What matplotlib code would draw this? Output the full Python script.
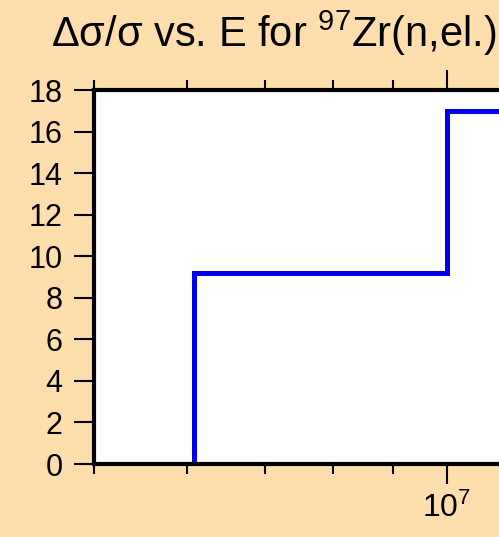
import numpy as np
import matplotlib
matplotlib.use('Agg')
import matplotlib.pyplot as plt
from matplotlib.ticker import FixedLocator, FixedFormatter, NullFormatter

plt.rcParams['font.family'] = ['Liberation Sans', 'DejaVu Sans']
plt.rcParams['mathtext.fontset'] = 'custom'
plt.rcParams['mathtext.rm'] = 'Liberation Sans'
plt.rcParams['mathtext.it'] = 'Liberation Sans'

# step edges (eV) and relative uncertainty values (%)
edges = [6.08e6, 1.0e7, 2.0e7]
rel_unc = [9.17, 17.0]

major_ticks = [1e7]
major_labels = [r'$\mathregular{10^{7}}$']
minor_ticks = [5e6, 6e6, 7e6, 8e6, 9e6]
y_ticks = list(range(0, 19, 2))

bg = '#FFDEAD'

fig = plt.figure(figsize=(4.99, 5.37), dpi=100, facecolor=bg)
# axes run off the right edge of the picture, like the reference crop
ax = fig.add_axes([94 / 499, 73 / 537, 706 / 499, 374 / 537])
ax.set_facecolor('white')

ax.stairs(rel_unc, edges, baseline=0, color='#0000F0', lw=3.6)

ax.set_xscale('log')
ax.set_xlim(5e6, 2e7)
ax.set_ylim(0, 18)

ax.xaxis.set_major_locator(FixedLocator(major_ticks))
ax.xaxis.set_major_formatter(FixedFormatter(major_labels))
ax.xaxis.set_minor_locator(FixedLocator(minor_ticks))
ax.xaxis.set_minor_formatter(NullFormatter())
ax.set_yticks(y_ticks)

for s in ax.spines.values():
    s.set_linewidth(3)

ax.tick_params(axis='y', which='major', direction='out', length=14.5, width=1.5,
               labelsize=22, pad=8, right=False)
ax.tick_params(axis='x', which='major', direction='out', length=14.5, width=1.5,
               labelsize=23, pad=6, top=True)
ax.tick_params(axis='x', which='minor', direction='out', length=7.5, width=1.5,
               top=True)

fig.text(273.5 / 499, 1 - 47 / 537,
         r'$\Delta\sigma/\sigma$ vs. E for $\mathregular{^{97}}$Zr(n,el.)',
         ha='center', va='baseline', fontsize=30)

fig.savefig('out.png', dpi=100, facecolor=bg)
